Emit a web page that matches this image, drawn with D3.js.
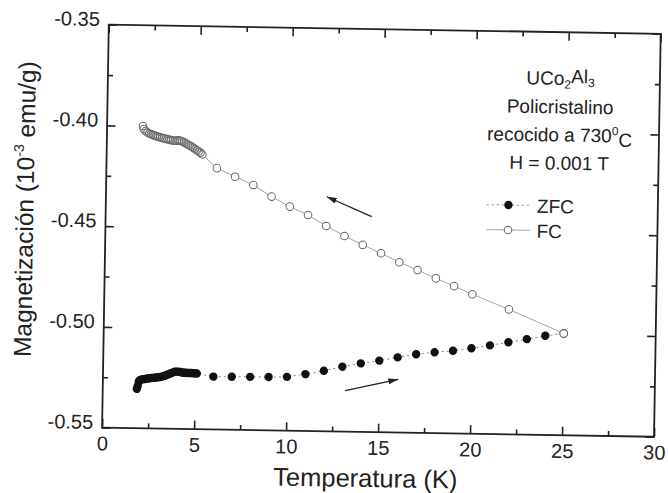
<!DOCTYPE html>
<html lang="es">
<head>
<meta charset="UTF-8">
<title>UCo2Al3 ZFC / FC</title>
<script src="https://cdn.jsdelivr.net/npm/d3@7"></script>
<style>
    html, body { margin: 0; padding: 0; background: #fff; overflow: hidden; }
    svg text { font-family: "Liberation Sans", Arial, sans-serif; fill: #222; }
</style>
</head>
<body>
<svg id="chart" width="668" height="493"></svg>
<script>
// ---- data ----
const xTicks = [0, 5, 10, 15, 20, 25, 30];
const xMinor = [2.5, 7.5, 12.5, 17.5, 22.5, 27.5];
const yTicks = [-0.55, -0.50, -0.45, -0.40, -0.35];
const yMinor = [-0.525, -0.475, -0.425, -0.375];

// ZFC (filled circles)
const zfcTemp = [1.85, 1.9, 1.95, 2.0, 2.1, 2.2, 2.3, 2.4, 2.5, 2.6, 2.7, 2.8, 2.9, 3.0,
    3.1, 3.2, 3.3, 3.4, 3.5, 3.6, 3.7, 3.8, 3.9, 4.0, 4.1, 4.2, 4.3, 4.4, 4.5, 4.6,
    4.7, 4.8, 4.9, 5.0, 5.1,
    6, 7, 8, 9, 10, 11, 12, 13, 14, 15, 16, 17, 18, 19, 20, 21, 22, 23, 24, 25];
const zfcMag = [-0.5305, -0.5290, -0.5270, -0.5262, -0.5258, -0.5256, -0.5255, -0.5253, -0.5252, -0.5250,
    -0.5249, -0.5248, -0.5247, -0.5246, -0.5244, -0.5242, -0.5239, -0.5236, -0.5232, -0.5228,
    -0.5224, -0.5220, -0.5217, -0.5216, -0.5216, -0.5218, -0.5220, -0.5221, -0.5221, -0.5222,
    -0.5222, -0.5222, -0.5223, -0.5223, -0.5224,
    -0.5238, -0.5237, -0.5236, -0.5235, -0.5233, -0.5218, -0.5200, -0.5178, -0.5160, -0.5145,
    -0.5127, -0.5110, -0.5099, -0.5090, -0.5076, -0.5060, -0.5043, -0.5026, -0.5008, -0.4995];

// FC (open circles)
const fcTemp = [1.95, 2.0, 2.1, 2.2, 2.3, 2.4, 2.5, 2.6, 2.7, 2.8, 2.9, 3.0, 3.1, 3.2, 3.3,
    3.4, 3.5, 3.6, 3.7, 3.8, 3.9, 4.0, 4.1, 4.2, 4.3, 4.4, 4.5, 4.6, 4.7, 4.8, 4.9,
    5.0, 5.1, 5.2,
    6, 7, 8, 9, 10, 11, 12, 13, 14, 15, 16, 17, 18, 19, 20, 22, 25];
const fcMag = [-0.4000, -0.4015, -0.4025, -0.4032, -0.4037, -0.4040, -0.4044, -0.4047, -0.4050, -0.4053,
    -0.4055, -0.4058, -0.4060, -0.4062, -0.4064, -0.4066, -0.4068, -0.4070, -0.4071, -0.4070,
    -0.4068, -0.4070, -0.4074, -0.4078, -0.4083, -0.4088, -0.4093, -0.4098, -0.4104, -0.4110,
    -0.4116, -0.4122, -0.4128, -0.4136,
    -0.4203, -0.4244, -0.4284, -0.4340, -0.4388, -0.4428, -0.4481, -0.4529, -0.4572, -0.4612,
    -0.4655, -0.4692, -0.4732, -0.4769, -0.4808, -0.4880, -0.4995];

// arrows: [tail, head] in data units
const arrowFC = [[14.46, -0.4431], [12.0, -0.4336]];
const arrowZFC = [[13.17, -0.5297], [16.05, -0.5236]];

// annotation and legend anchors (data units)
const noteAnchor = [24.6, -0.3762];
const legendAnchor = [21.88, -0.4362];
const legendLabels = ["ZFC", "FC"];

// ---- layout ----
const svg = d3.select("#chart"),
    margin = {top: 29.2, left: 105.4},
    width = 552,
    height = 403;

// the scanned page is turned a little clockwise
const tilt = 0.95;
const root = svg.append("g")
    .attr("transform", `rotate(${tilt},${margin.left + width / 2},${margin.top + height / 2})`);
const g = root.append("g").attr("transform", `translate(${margin.left},${margin.top})`);

const x = d3.scaleLinear().domain([0, 30]).range([0, width]);
const y = d3.scaleLinear().domain([-0.55, -0.35]).range([height, 0]);

const ink = "#222";

function styleAxis(sel) {
    sel.select(".domain").remove();
    sel.attr("font-size", 20).attr("font-family", null);
    sel.selectAll("line").attr("stroke", ink).attr("stroke-width", 1.6);
}

// major ticks, all pointing inward
g.append("g").attr("transform", `translate(0,${height})`)
    .call(d3.axisBottom(x).tickValues(xTicks).tickSize(-8.5).tickPadding(8.5).tickFormat(d3.format("d")))
    .call(styleAxis);
g.append("g")
    .call(d3.axisLeft(y).tickValues(yTicks).tickSize(-8.5).tickPadding(9).tickFormat(d => d.toFixed(2)))
    .call(styleAxis)
    .selectAll("text").attr("dy", "0.05em");
g.append("g")
    .call(d3.axisTop(x).tickValues(xTicks).tickSize(-8.5).tickFormat(""))
    .call(styleAxis);
g.append("g").attr("transform", `translate(${width},0)`)
    .call(d3.axisRight(y).tickValues(yTicks).tickSize(-8.5).tickFormat(""))
    .call(styleAxis);

// minor ticks
g.append("g").attr("transform", `translate(0,${height})`)
    .call(d3.axisBottom(x).tickValues(xMinor).tickSize(-5).tickFormat("")).call(styleAxis);
g.append("g")
    .call(d3.axisTop(x).tickValues(xMinor).tickSize(-5).tickFormat("")).call(styleAxis);
g.append("g")
    .call(d3.axisLeft(y).tickValues(yMinor).tickSize(-5).tickFormat("")).call(styleAxis);
g.append("g").attr("transform", `translate(${width},0)`)
    .call(d3.axisRight(y).tickValues(yMinor).tickSize(-5).tickFormat("")).call(styleAxis);

g.append("rect")
    .attr("width", width).attr("height", height)
    .attr("fill", "none").attr("stroke", ink).attr("stroke-width", 1.8);

// axis titles
g.append("text")
    .attr("x", width / 2 - 12).attr("y", height + 55)
    .attr("text-anchor", "middle").attr("font-size", 25.5)
    .text("Temperatura (K)");

const yTitle = g.append("text")
    .attr("transform", `translate(-72.4,${height / 2 - 15.7}) rotate(-90)`)
    .attr("text-anchor", "middle").attr("font-size", 24.5);
yTitle.append("tspan").text("Magnetización (10");
yTitle.append("tspan").attr("font-size", 14).attr("dy", "-0.75em").text("-3");
yTitle.append("tspan").attr("dy", "0.44em").text(" emu/g)");

// ---- series ----
const zfc = zfcTemp.map((t, i) => ({t: t, m: zfcMag[i]}));
const fc = fcTemp.map((t, i) => ({t: t, m: fcMag[i]}));
const line = d3.line().x(d => x(d.t)).y(d => y(d.m));

g.append("path").datum(fc)
    .attr("fill", "none").attr("stroke", "#9a9a9a").attr("stroke-width", 0.9)
    .attr("d", line);
g.append("path").datum(zfc)
    .attr("fill", "none").attr("stroke", "#888").attr("stroke-width", 1)
    .attr("stroke-dasharray", "2,3")
    .attr("d", line);

g.selectAll(".zfc").data(zfc).enter().append("circle")
    .attr("class", "zfc")
    .attr("cx", d => x(d.t)).attr("cy", d => y(d.m))
    .attr("r", 4.2).attr("fill", "#111");

// open circles: white disks first, then every outline on top
g.selectAll(".fcbg").data(fc).enter().append("circle")
    .attr("class", "fcbg")
    .attr("cx", d => x(d.t)).attr("cy", d => y(d.m))
    .attr("r", 3.8).attr("fill", "#fff");
g.selectAll(".fc").data(fc).enter().append("circle")
    .attr("class", "fc")
    .attr("cx", d => x(d.t)).attr("cy", d => y(d.m))
    .attr("r", 3.8).attr("fill", "none")
    .attr("stroke", "#666").attr("stroke-width", 1);

// ---- arrows ----
svg.append("defs").append("marker")
    .attr("id", "head")
    .attr("viewBox", "0 0 10 6")
    .attr("refX", 10).attr("refY", 3)
    .attr("markerWidth", 10).attr("markerHeight", 6)
    .attr("markerUnits", "userSpaceOnUse")
    .attr("orient", "auto")
    .append("path").attr("d", "M0,0L10,3L0,6Z").attr("fill", ink);

[arrowFC, arrowZFC].forEach(a => {
    g.append("line")
        .attr("x1", x(a[0][0])).attr("y1", y(a[0][1]))
        .attr("x2", x(a[1][0])).attr("y2", y(a[1][1]))
        .attr("stroke", ink).attr("stroke-width", 1.3)
        .attr("marker-end", "url(#head)");
});

// ---- annotation ----
const note = g.append("text")
    .attr("x", x(noteAnchor[0])).attr("y", y(noteAnchor[1]))
    .attr("text-anchor", "middle").attr("font-size", 19);
const nx = x(noteAnchor[0]);
const l1 = note.append("tspan").attr("x", nx);
l1.append("tspan").text("UCo");
l1.append("tspan").attr("font-size", 12).attr("dy", "0.3em").text("2");
l1.append("tspan").attr("dy", "-0.3em").text("Al");
l1.append("tspan").attr("font-size", 12).attr("dy", "0.3em").text("3");
note.append("tspan").attr("x", nx).attr("dy", "1.42em").text("Policristalino");
const l3 = note.append("tspan").attr("x", nx).attr("dy", "1.48em");
l3.append("tspan").text("recocido a 730");
l3.append("tspan").attr("font-size", 12).attr("dy", "-0.6em").text("0");
l3.append("tspan").attr("dy", "0.6em").text("C");
note.append("tspan").attr("x", nx).attr("dy", "1.26em").text("H = 0.001 T");

// ---- legend ----
const lx = x(legendAnchor[0]), ly = y(legendAnchor[1]);
legendLabels.forEach((name, i) => {
    const row = g.append("g").attr("transform", `translate(${lx},${ly + i * 25})`);
    row.append("line")
        .attr("x1", -21.7).attr("x2", 21.7)
        .attr("stroke", i === 0 ? "#888" : "#9a9a9a")
        .attr("stroke-width", i === 0 ? 1 : 0.9)
        .attr("stroke-dasharray", i === 0 ? "2,3" : null);
    if (i === 0) {
        row.append("circle").attr("r", 4.2).attr("fill", "#111");
    } else {
        row.append("circle").attr("r", 3.8).attr("fill", "#fff")
            .attr("stroke", "#666").attr("stroke-width", 1);
    }
    row.append("text").attr("x", 28.5).attr("y", 7.3).attr("font-size", 19).text(name);
});
</script>
</body>
</html>
